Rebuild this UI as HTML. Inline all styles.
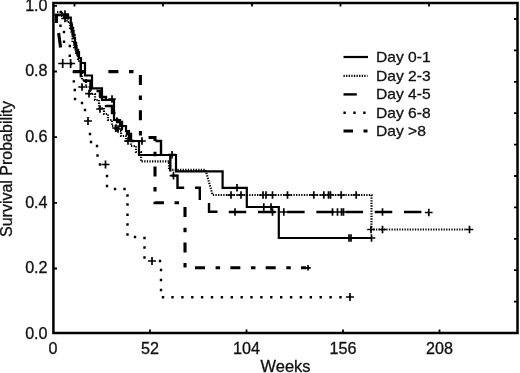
<!DOCTYPE html>
<html><head><meta charset="utf-8"><title>Survival Probability</title>
<style>
html,body{margin:0;padding:0;background:#fff;}
svg{display:block;}
text{font-family:"Liberation Sans",Arial,sans-serif;font-size:16.1px;fill:#111;stroke:#111;stroke-width:0.3px;}
</style></head>
<body>
<svg width="520" height="373" viewBox="0 0 520 373">
<rect width="520" height="373" fill="#fff"/>
<g fill="none" stroke="#000">
<path d="M59.8 12.0h2.4M59.3 25.8h2.4M62.8 32.0h2.4M62.8 41.7h2.4M68.6 46.0h2.4M68.6 55.7h2.4M72.6 71.7h2.4M72.6 81.4h2.4M73.6 90.0h2.4M73.8 99.0h2.4M80.8 103.0h2.4M83.8 110.0h2.4M88.8 134.0h2.4M89.8 142.0h2.4M95.8 146.0h2.4M96.3 155.5h2.4M98.8 164.5h2.4M105.8 176.0h2.4M105.8 186.0h2.4M113.8 189.0h2.4M123.3 189.0h2.4M126.3 195.5h2.4M126.3 204.5h2.4M126.3 214.8h2.4M126.3 224.5h2.4M126.3 234.5h2.4M133.8 237.0h2.4M143.3 238.0h2.4M143.3 247.5h2.4M143.3 257.5h2.4M158.8 261.0h2.4M159.8 270.0h2.4M159.8 280.0h2.4M159.8 290.0h2.4M161.8 297.3h2.4M171.3 297.3h2.4M181.2 297.3h2.4M191.1 297.3h2.4M200.9 297.3h2.4M210.8 297.3h2.4M220.7 297.3h2.4M230.6 297.3h2.4M240.5 297.3h2.4M250.3 297.3h2.4M260.2 297.3h2.4M270.1 297.3h2.4M280.0 297.3h2.4M289.9 297.3h2.4M299.7 297.3h2.4M309.6 297.3h2.4M319.5 297.3h2.4M329.4 297.3h2.4M339.3 297.3h2.4" stroke-width="2.4"/>
<path d="M57.0 12.0 L62.0 12.0 L62.0 16.0 L67.0 16.0 L67.0 22.0 L70.0 22.0 L70.0 28.0 L71.3 28.0 L71.3 34.0 L72.5 34.0 L72.5 42.0 L74.0 42.0 L74.0 49.0 L76.0 49.0 L76.0 55.0 L78.0 55.0 L78.0 61.0 L80.8 61.0 L80.8 70.0 L82.0 70.0 L82.0 80.0 L86.0 80.0 L86.0 87.0 L90.0 87.0 L90.0 94.0 L95.0 94.0 L95.0 100.0 L99.0 100.0 L99.0 108.0 L104.0 108.0 L104.0 114.0 L108.0 114.0 L108.0 120.0 L112.0 120.0 L112.0 126.0 L116.0 126.0 L116.0 131.0 L121.0 131.0 L121.0 136.0 L126.0 136.0 L126.0 141.0 L131.0 141.0 L131.0 146.0 L136.0 146.0 L136.0 152.0 L141.0 152.0 L141.0 161.4 L169.0 161.4 L169.0 169.8 L205.5 169.8 L212.5 194.6 L212.5 195.0 L371.5 195.0 L371.5 229.5 L466.0 229.5" stroke-width="2.2" stroke-dasharray="1.3 1.3"/>
<path d="M55.0 15.0 L68.0 15.0 L68.0 20.0 L71.5 20.0 L71.5 28.0 L73.0 28.0 L73.0 35.0 L74.5 35.0 L74.5 43.0 L76.0 43.0 L76.0 50.0 L78.0 50.0 L78.0 57.0 L80.8 57.0 L80.8 80.8 L90.5 80.8 L90.5 91.0 L100.0 91.0 L100.0 97.0 L106.0 97.0 L106.0 106.0 L112.0 106.0 L112.0 113.0 L117.0 113.0 L117.0 122.0 L122.0 122.0 L122.0 129.0 L127.0 129.0 L127.0 134.0 L131.0 134.0 L131.0 141.0 L143.0 141.0" stroke-width="2.4" stroke-dasharray="17.5 6"/>
<path d="M155.5 141H161V155M170.3 155V171.5M171.5 175.6H177.5V187.7H184.2M195 187.7H199.8V200M209 203V211.8H217.5" stroke-width="2.4"/>
<path d="M228.75 212H428" stroke-width="2.4" stroke-dasharray="17.5 11.7"/>
<path d="M108.4 71.6 L140.4 71.6 L140.4 137.5 L155.0 137.5 L155.0 202.8 L185.0 202.8 L185.0 267.8 L306.0 267.8" stroke-width="3.1" stroke-dasharray="10 10.6 4.5 10.25"/>
<path d="M56.4 14.5V23M58.6 33L60.6 47.5M70 63.6H72.2M73 71.6H84" stroke-width="3.1"/>
<path d="M54.5 14.8 L64.0 14.8 L64.0 17.5 L70.8 17.5 L70.8 25.0 L72.0 25.0 L72.0 31.0 L73.5 31.0 L73.5 38.0 L75.0 38.0 L75.0 46.0 L76.5 46.0 L76.5 52.0 L79.0 52.0 L79.0 58.0 L81.0 58.0 L81.0 63.0 L85.0 63.0 L85.0 75.5 L92.0 75.5 L92.0 88.4 L102.0 88.4 L102.0 100.0 L114.0 100.0 L114.0 120.0 L120.0 120.0 L120.0 126.0 L126.0 126.0 L126.0 131.0 L129.0 131.0 L129.0 141.0 L139.0 141.0 L139.0 155.0 L176.0 155.0 L176.0 171.3 L222.6 171.3 L222.6 187.8 L246.8 187.8 L246.8 207.0 L278.8 207.0 L278.8 238.0 L372.0 238.0" stroke-width="2.2" stroke-linejoin="miter"/>
<path d="M233.2 187.8H240.8M237.0 184.0V191.6M259.9 207.0H267.6M263.8 203.2V210.8M267.2 207.0H274.8M271.0 203.2V210.8M345.2 238.0H352.8M349.0 234.2V241.8M347.2 238.0H354.8M351.0 234.2V241.8M367.7 238.0H375.3M371.5 234.2V241.8M108.2 99.0H115.8M112.0 95.2V102.8M138.2 141.0H145.8M142.0 137.2V144.8M227.2 195.0H234.8M231.0 191.2V198.8M237.2 195.0H244.8M241.0 191.2V198.8M259.2 195.0H266.8M263.0 191.2V198.8M262.2 195.0H269.8M266.0 191.2V198.8M268.7 195.0H276.3M272.5 191.2V198.8M283.7 195.0H291.3M287.5 191.2V198.8M309.9 195.0H317.6M313.8 191.2V198.8M319.9 195.0H327.6M323.8 191.2V198.8M324.7 195.0H332.3M328.5 191.2V198.8M326.7 195.0H334.3M330.5 191.2V198.8M337.4 195.0H345.1M341.2 191.2V198.8M352.4 195.0H360.1M356.2 191.2V198.8M367.2 229.5H374.8M371.0 225.7V233.3M378.7 229.5H386.3M382.5 225.7V233.3M465.7 229.5H473.3M469.5 225.7V233.3M61.2 14.0H68.8M65.0 10.2V17.8M61.2 18.5H68.8M65.0 14.7V22.3M78.2 87.0H85.8M82.0 83.2V90.8M85.2 93.6H92.8M89.0 89.8V97.4M96.2 109.0H103.8M100.0 105.2V112.8M112.2 128.0H119.8M116.0 124.2V131.8M114.2 129.0H121.8M118.0 125.2V132.8M124.2 141.0H131.8M128.0 137.2V144.8M168.2 154.7H175.8M172.0 150.9V158.5M169.7 175.6H177.3M173.5 171.8V179.4M231.2 212.0H238.8M235.0 208.2V215.8M268.7 212.0H276.3M272.5 208.2V215.8M279.9 212.0H287.6M283.8 208.2V215.8M328.7 212.0H336.3M332.5 208.2V215.8M333.7 212.0H341.3M337.5 208.2V215.8M337.7 212.0H345.3M341.5 208.2V215.8M339.7 212.0H347.3M343.5 208.2V215.8M378.7 212.0H386.3M382.5 208.2V215.8M424.9 212.5H432.6M428.8 208.7V216.3M84.0 121.0H92.0M88.0 117.0V125.0M101.5 164.5H109.5M105.5 160.5V168.5M148.0 261.0H156.0M152.0 257.0V265.0M346.0 297.0H354.0M350.0 293.0V301.0M58.2 63.5H67.2M62.7 59.0V68.0M66.1 63.5H75.1M70.6 59.0V68.0M305.2 267.8H310.8M308.0 265.0V270.6" stroke-width="1.7"/>
<path d="M343.5 57H368" stroke-width="2.2"/>
<path d="M343.5 75.8H367.5" stroke-width="2.2" stroke-dasharray="1.3 1.3"/>
<path d="M343.5 94.4H356.8" stroke-width="2.4"/>
<path d="M343.4 112.7H366" stroke-width="2.4" stroke-dasharray="2.4 7.5"/>
<path d="M343.5 131H353M363.5 131H367.5" stroke-width="3.1"/>
<rect x="53.4" y="3" width="464.1" height="330" stroke-width="2.5"/>
<path d="M150 333V329.6M246.5 333V329.6M343 333V329.6M439.5 333V329.6M74.5 3V6.6M163 3V6.6M252 3V6.6M340.5 3V6.6M429 3V6.6M53.5 5.8H57M53.5 71.5H57M53.5 137.2H57M53.5 202.9H57M53.5 268.5H57M517.5 19.0H514M517.5 50.4H514M517.5 81.8H514M517.5 113.2H514M517.5 144.6H514M517.5 176.0H514M517.5 207.4H514M517.5 238.8H514M517.5 270.2H514M517.5 301.6H514" stroke-width="1.8"/>
</g>
<g><text transform="translate(53 353.6) scale(1.03 1)" text-anchor="middle" style="font-size:15.7px">0</text><text transform="translate(150 353.6) scale(1.03 1)" text-anchor="middle" style="font-size:15.7px">52</text><text transform="translate(246.5 353.6) scale(1.03 1)" text-anchor="middle" style="font-size:15.7px">104</text><text transform="translate(343 353.6) scale(1.03 1)" text-anchor="middle" style="font-size:15.7px">156</text><text transform="translate(439.5 353.6) scale(1.03 1)" text-anchor="middle" style="font-size:15.7px">208</text><text transform="translate(47.6 11.0) scale(1.03 1)" text-anchor="end" style="font-size:15.7px">1.0</text><text transform="translate(47.6 76.4) scale(1.03 1)" text-anchor="end" style="font-size:15.7px">0.8</text><text transform="translate(47.6 142.1) scale(1.03 1)" text-anchor="end" style="font-size:15.7px">0.6</text><text transform="translate(47.6 207.8) scale(1.03 1)" text-anchor="end" style="font-size:15.7px">0.4</text><text transform="translate(47.6 273.4) scale(1.03 1)" text-anchor="end" style="font-size:15.7px">0.2</text><text transform="translate(47.6 339.0) scale(1.03 1)" text-anchor="end" style="font-size:15.7px">0.0</text><text transform="translate(376 62.4) scale(1.015 1)" text-anchor="start" style="font-size:15.4px">Day 0-1</text><text transform="translate(376 80.9) scale(1.015 1)" text-anchor="start" style="font-size:15.4px">Day 2-3</text><text transform="translate(376 99.4) scale(1.015 1)" text-anchor="start" style="font-size:15.4px">Day 4-5</text><text transform="translate(376 117.9) scale(1.015 1)" text-anchor="start" style="font-size:15.4px">Day 6-8</text><text transform="translate(376 136.4) scale(1.015 1)" text-anchor="start" style="font-size:15.4px">Day &gt;8</text>
<text transform="translate(285.5 371.7) scale(1.035 1)" text-anchor="middle" style="font-size:15.9px">Weeks</text><text transform="translate(11.6 169) rotate(-90) scale(1.02 1)" text-anchor="middle" style="font-size:15.7px">Survival Probability</text>
</g>
</svg>
</body></html>
